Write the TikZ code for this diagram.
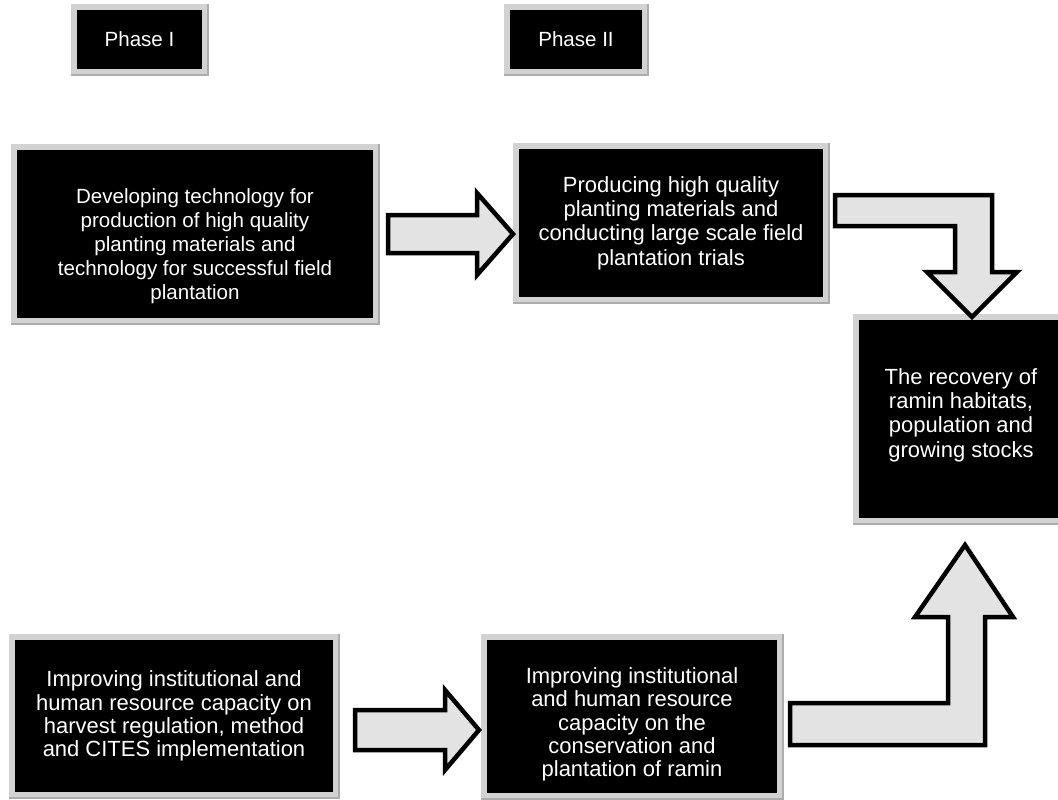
\documentclass[tikz,border=0pt]{standalone}
\usepackage{fontspec}
\setmainfont{Liberation Sans}
\newcommand{\padtop}[1]{\rule{0pt}{#1}}
\newcommand{\padbot}[1]{\rule[-#1]{0pt}{#1}}
\tikzset{
    phase/.style={
    rectangle,draw=gray!35,fill=black,line width=0.12cm,text=white,inner sep=0pt
    },
    stage/.style={
    rectangle,draw=gray!35,fill=black,line width=0.12cm,text=white,align=center,inner sep=0pt
    },
    rim/.style={
    draw=gray!65,line width=0.04cm
    },
    bigarrow/.style={
    draw=black,fill=gray!22,line width=0.09cm,line join=miter
    },
}

\begin{document}
\begin{tikzpicture}[x=0.02cm, y=-0.02cm, font=\fontsize{11.7}{13.4}\selectfont]
  \useasboundingbox (0,0) rectangle (1058,799);

  % phase labels
  \node[phase, minimum width=2.62cm, minimum height=1.30cm] (p1) at (139.5,39.5) {Phase I};
  \node[phase, minimum width=2.76cm, minimum height=1.30cm] (p2) at (576,39.5) {Phase II};

  % stages
  \node[stage, minimum width=7.24cm, minimum height=3.48cm, font=\fontsize{11.7}{13.7}\selectfont] (dev) at (195,234)
    {\padtop{22pt}Developing technology for\\production of high quality\\planting materials and\\technology for successful field\\plantation};
  \node[stage, minimum width=6.20cm, minimum height=3.08cm, font=\fontsize{12.5}{13.9}\selectfont] (prod) at (671,223)
    {Producing high quality\\planting materials and\\conducting large scale field\\plantation trials};
  \node[stage, minimum width=4.20cm, minimum height=4.08cm, font=\fontsize{12.5}{13.8}\selectfont] (recov) at (961,419)
    {The recovery of\\ramin habitats,\\population and\\growing stocks\padbot{7pt}};
  \node[stage, minimum width=6.48cm, minimum height=3.16cm, font=\fontsize{12.5}{13.2}\selectfont] (harv) at (174,716)
    {Improving institutional and\\human resource capacity on\\harvest regulation, method\\and CITES implementation};
  \node[stage, minimum width=5.92cm, minimum height=3.18cm, font=\fontsize{12.5}{13.2}\selectfont] (cons) at (632,716.5)
    {\padtop{18pt}Improving institutional\\and human resource\\capacity on the\\conservation and\\plantation of ramin};

  \foreach \n in {p1,p2,dev,prod,recov,harv,cons}
    \draw[rim] (\n.north east) -- (\n.south east) -- (\n.south west);

  % block arrows
  \draw[bigarrow] (388,215) -- (477,215) -- (477,193) -- (513,234) -- (477,275) -- (477,253) -- (388,253) -- cycle;
  \draw[bigarrow] (355,710) -- (445,710) -- (445,690) -- (479,730) -- (445,770) -- (445,750) -- (355,750) -- cycle;
  \draw[bigarrow] (835,195) -- (992,195) -- (992,272) -- (1017,272) -- (972,317) -- (927,272) -- (955,272) -- (955,226) -- (835,226) -- cycle;
  \draw[bigarrow] (790,703) -- (948,703) -- (948,617) -- (915,617) -- (965,545) -- (1013,617) -- (985,617) -- (985,745) -- (790,745) -- cycle;
\end{tikzpicture}
\end{document}
